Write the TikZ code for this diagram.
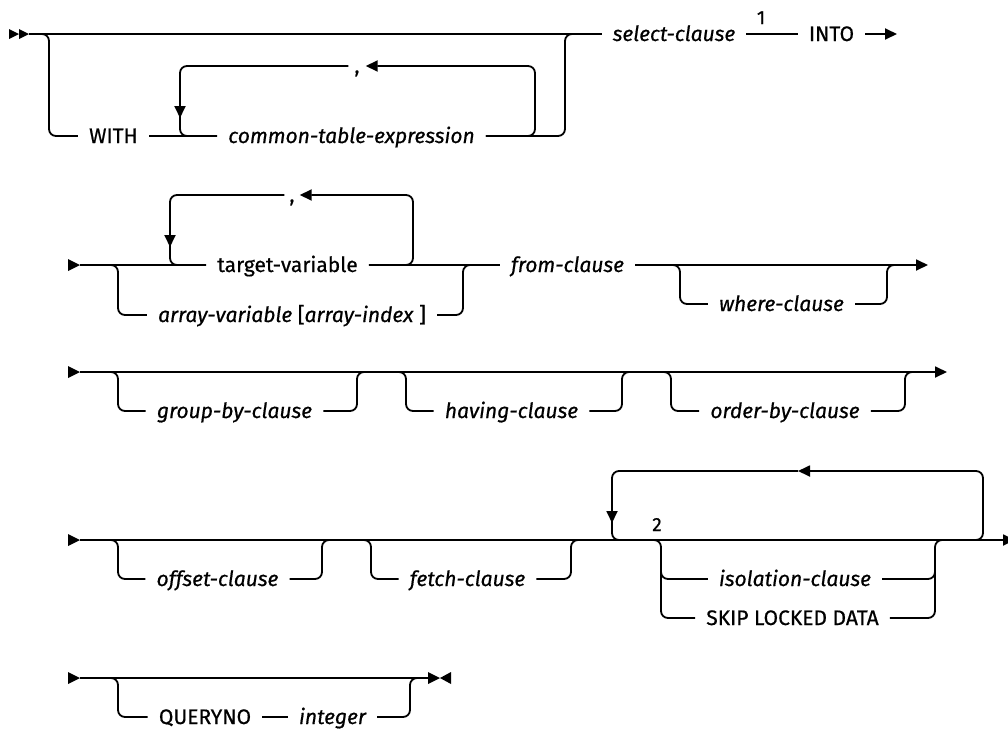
\documentclass[tikz,border=0pt]{standalone}
\usepackage{fontspec}
\setmainfont{Fira Sans}[FakeBold=0.6]
\usetikzlibrary{arrows.meta}
\begin{document}
\begin{tikzpicture}[x=1pt,y=-1pt,
  rr/.style={line width=1.8pt, rounded corners=7pt},
  arr/.style={-{Triangle[length=12pt,width=11pt]}},
  every node/.style={font=\fontsize{21}{24}\selectfont, inner ysep=0pt, text height=14pt, text depth=0pt},
  lbl/.style={inner xsep=11pt},
  itl/.style={lbl, font=\fontsize{21}{24}\selectfont\itshape},
  commanode/.style={inner xsep=5pt},
  notenum/.style={inner sep=0pt, font=\fontsize{19}{22}\selectfont, text height=12pt},
  startmark/.pic={\fill (0,-6)--(12,0)--(0,6)--cycle;},
  dblmark/.pic={\fill (0,-5)--(10,0)--(0,5)--cycle; \fill (10,-5)--(20,0)--(10,5)--cycle;},
  endmark/.pic={\fill (0,-6)--(12,0)--(0,6)--cycle; \fill (23,-6)--(12,0)--(23,6)--cycle;},
]
\clip (0,0) rectangle (1008,728);

% ---------------- Row 1
\pic at (9,34) {dblmark};
\coordinate (r1s) at (29,34);
\node[lbl] (with) at (113.5,136) {WITH};
\node[itl] (cte) at (351.5,136) {common-table-expression};
\node[commanode, inner xsep=6pt] (comma1) at (357,66) {,};
\node[itl] (sel) at (674,34) {select-clause};
\node[notenum] (n1) at (761,18) {1};
\node[lbl] (into) at (831.5,34) {INTO};
\coordinate (r1e) at (897,34);

\draw[rr] (r1s) -- (sel.west);
\draw[rr] (r1s) -| (49,136) -- (with.west);
\draw[rr] (with.east) -- (cte.west);
\draw[rr] (cte.east) -| (565,34) -- (580,34);
\draw[rr,arr] (cte.east) -| (535,66) -- (comma1.east);
\draw[rr,arr] (comma1.west) -| (180,118);
\draw[rr] (180,112) |- (cte.west);
\draw[rr] (sel.east) -- (into.west);
\draw[rr,arr] (into.east) -- (r1e);

% ---------------- Row 2
\pic at (68,265) {startmark};
\coordinate (r2s) at (80,265);
\node[lbl] (tv) at (287.5,265) {target-variable};
\node[lbl] (av) at (292,315) {\textit{array-variable} [\textit{array-index} ]};
\node[commanode] (comma2) at (292,195) {,};
\node[itl] (from) at (567.5,265) {from-clause};
\node[itl] (where) at (781.5,304) {where-clause};
\coordinate (r2e) at (928,265);

\draw[rr] (r2s) -- (tv.west);
\draw[rr] (r2s) -| (118,315) -- (av.west);
\draw[rr] (av.east) -| (463,265) -- (480,265);
\draw[rr,arr] (tv.east) -| (413,195) -- (comma2.east);
\draw[rr,arr] (comma2.west) -| (170,247);
\draw[rr] (170,240) |- (tv.west);
\draw[rr] (tv.east) -- (from.west);
\draw[rr,arr] (from.east) -- (r2e);
\draw[rr] (from.east) -| (680,304) -- (where.west);
\draw[rr] (where.east) -| (887,265) -- (900,265);

% ---------------- Row 3
\pic at (68,372) {startmark};
\coordinate (r3s) at (80,372);
\coordinate (r3e) at (947,372);
\node[itl] (gb) at (234.5,411) {group-by-clause};
\node[itl] (hv) at (511.5,411) {having-clause};
\node[itl] (ob) at (785,411) {order-by-clause};

\draw[rr,arr] (r3s) -- (r3e);
\draw[rr] (r3s) -| (118,411) -- (gb.west);
\draw[rr] (gb.east) -| (357,372) -- (370,372);
\draw[rr] (370,372) -| (406,411) -- (hv.west);
\draw[rr] (hv.east) -| (622,372) -- (635,372);
\draw[rr] (635,372) -| (671,411) -- (ob.west);
\draw[rr] (ob.east) -| (905,372) -- (918,372);

% ---------------- Row 4
\pic at (68,540) {startmark};
\coordinate (r4s) at (80,540);
\coordinate (r4e) at (1015,540);
\node[itl] (off) at (217.5,579) {offset-clause};
\node[itl] (fe) at (467.5,579) {fetch-clause};
\node[itl] (iso) at (795,579) {isolation-clause};
\node[lbl] (skip) at (792.5,618) {SKIP LOCKED DATA};
\node[notenum] (n2) at (657,525) {2};
\coordinate (lp) at (798,471);

\draw[rr,arr] (r4s) -- (r4e);
\draw[rr] (r4s) -| (118,579) -- (off.west);
\draw[rr] (off.east) -| (322,540) -- (335,540);
\draw[rr] (335,540) -| (371,579) -- (fe.west);
\draw[rr] (fe.east) -| (571,540) -- (585,540);
\draw[rr,arr] (945,540) -| (983,471) -- (lp);
\draw[rr,arr] (lp) -| (612,523);
\draw[rr] (612,515) |- (650,540);
\draw[rr] (625,540) -| (661,618) -- (skip.west);
\draw[rr] (661,560) |- (iso.west);
\draw[rr] (iso.east) -| (935,540) -- (948,540);
\draw[rr] (skip.east) -| (935,570);

% ---------------- Row 5
\pic at (68,678) {startmark};
\coordinate (r5s) at (80,678);
\coordinate (r5e) at (428,678);
\node[lbl] (qn) at (205,717) {QUERYNO};
\node[itl] (int) at (332.5,717) {integer};
\pic at (428,678) {endmark};

\draw[rr] (r5s) -- (r5e);
\draw[rr] (r5s) -| (118,717) -- (qn.west);
\draw[rr] (qn.east) -- (int.west);
\draw[rr] (int.east) -| (410,678) -- (422,678);
\end{tikzpicture}
\end{document}
